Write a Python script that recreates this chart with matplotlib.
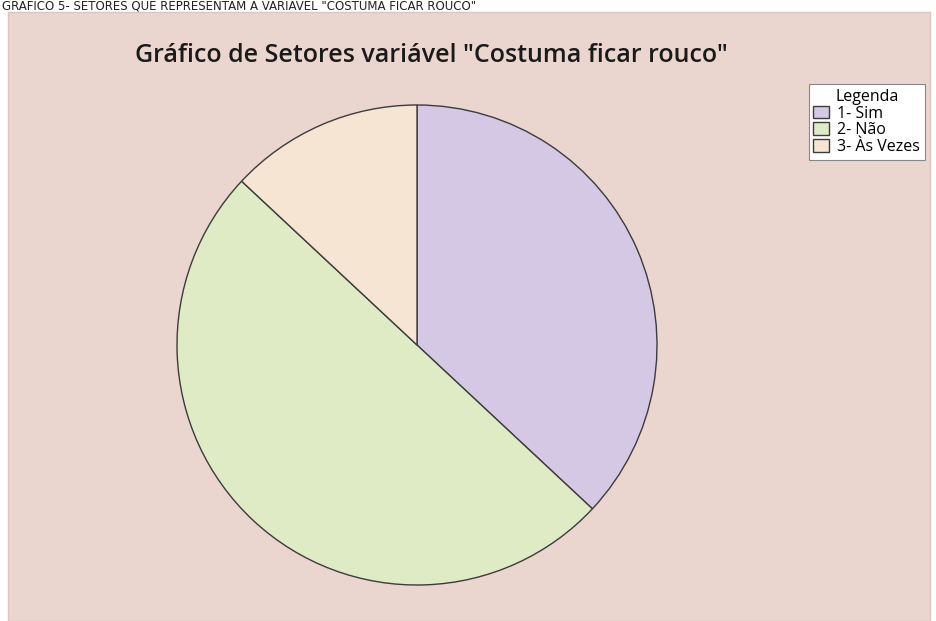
import matplotlib.pyplot as plt
from matplotlib.patches import Rectangle

# dados do gráfico de setores
categorias = ['1- Sim', '2- Não', '3- Às Vezes']
contagens = [17, 23, 6]
cores = ['#D4C8E4', '#DFEBC5', '#F5E5D2']

titulo = 'Gráfico de Setores variável "Costuma ficar rouco"'
legenda_titulo = 'Legenda'
legenda_fig = 'GRÁFICO 5- SETORES QUE REPRESENTAM A VARIÁVEL "COSTUMA FICAR ROUCO"'

plt.rcParams['font.family'] = ['Open Sans', 'DejaVu Sans']

W, H = 936, 621
fig = plt.figure(figsize=(W / 100, H / 100), dpi=100)
fig.patch.set_facecolor('white')

# painel de fundo rosado
painel = Rectangle((8 / W, 0), 922 / W, 1 - 12 / H, transform=fig.transFigure,
                   facecolor='#EBD5CF', edgecolor='#D8C6C0', linewidth=1, zorder=-10)
fig.patches.append(painel)

# legenda da figura no topo
fig.text(2 / W, 1 - 10 / H, legenda_fig, fontsize=8.5, family=['DejaVu Sans'],
         va='baseline', ha='left', color='#222222')

# eixo do pie
cx, cy, r = 417, 345, 240
ax = fig.add_axes([(cx - r) / W, (H - cy - r) / H, 2 * r / W, 2 * r / H])
ax.set_facecolor('none')
fatias, _ = ax.pie(contagens, colors=cores, startangle=90, counterclock=False,
                   radius=1, wedgeprops={'edgecolor': '#3C3C3C', 'linewidth': 1.0})
ax.set_xlim(-1.0, 1.0)
ax.set_ylim(-1.0, 1.0)
ax.set_aspect('equal')
ax.axis('off')

fig.text(135 / W, 1 - 56 / H, titulo, fontsize=18, fontweight='semibold',
         va='center', ha='left', color='#1A1A1A')

leg = fig.legend(fatias, categorias, title=legenda_titulo, loc='upper right',
                 bbox_to_anchor=(925 / W, 1 - 84 / H), borderaxespad=0,
                 fontsize=11.5, title_fontsize=11.5, fancybox=False, framealpha=1,
                 edgecolor='#888888', handlelength=1.0, handleheight=0.85,
                 handletextpad=0.5, labelspacing=0.05, borderpad=0.3)
leg.get_frame().set_linewidth(0.8)

fig.savefig('out.png', dpi=100)
